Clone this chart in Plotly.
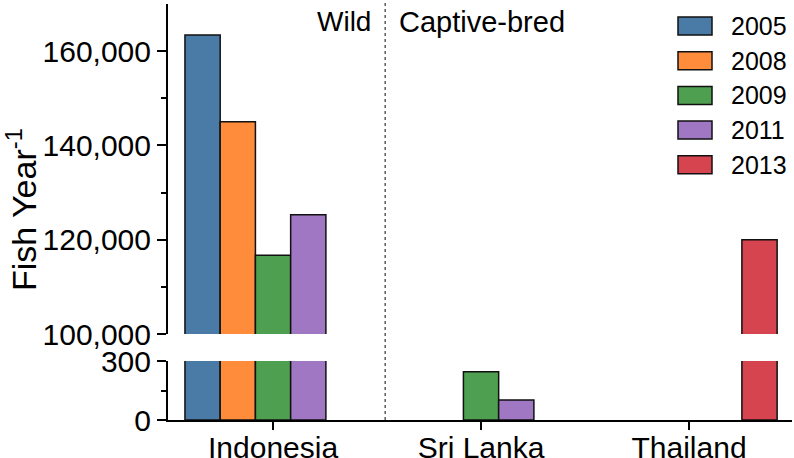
import plotly.graph_objects as go

countries = ["Indonesia", "Sri Lanka", "Thailand"]
years = ["2005", "2008", "2009", "2011", "2013"]
values = {
    "2005": [163400, None, None],
    "2008": [145000, None, None],
    "2009": [116700, 245, None],
    "2011": [125300, 102, None],
    "2013": [None, None, 120000],
}
colors = {
    "2005": "#4A7BA6",
    "2008": "#FF8C3A",
    "2009": "#4EA050",
    "2011": "#A077C2",
    "2013": "#D6444F",
}

FONT = "Liberation Sans, Arial, sans-serif"
W, H = 794, 458
mt, mb, ml, mr = 4, 38, 168, 2
ph = H - mt - mb
pw = W - ml - mr

def yfrac(px):
    return (H - mb - px) / ph

def xfrac(px):
    return (px - ml) / pw

fig = go.Figure()
for yr in years:
    for ax in ("y", "y2"):
        fig.add_trace(go.Bar(
            x=countries, y=values[yr], name=yr, yaxis=ax, xaxis="x",
            marker=dict(color=colors[yr], line=dict(color="#111111", width=1.5)),
            showlegend=False,
        ))

tick_common = dict(showline=True, linecolor="black", linewidth=2, ticks="outside",
                   tickwidth=2, tickcolor="black", showgrid=False, zeroline=False,
                   automargin=False, tickfont=dict(size=30))

fig.update_layout(
    width=W, height=H,
    margin=dict(l=ml, r=mr, t=mt, b=mb, autoexpand=False),
    paper_bgcolor="white", plot_bgcolor="white",
    barmode="group", bargap=0.153, bargroupgap=0,
    font=dict(family=FONT, size=30, color="black"),
    xaxis=dict(range=[-0.505, 2.495], anchor="y2", ticklen=8,
               ticklabelstandoff=-8, **tick_common),
    yaxis=dict(
        domain=[yfrac(334), 1.0], range=[100000, 170000], ticklen=9,
        tickvals=[100000, 120000, 140000, 160000],
        ticktext=["100,000", "120,000", "140,000", "160,000"],
        minor=dict(tickvals=[110000, 130000, 150000], ticks="outside", ticklen=5,
                   tickwidth=2, tickcolor="black"),
        anchor="x", **tick_common,
    ),
    yaxis2=dict(
        domain=[0, yfrac(361)], range=[0, 300], ticklen=9,
        tickvals=[0, 300], ticktext=["0", "300"],
        minor=dict(tickvals=[150], ticks="outside", ticklen=5,
                   tickwidth=2, tickcolor="black"),
        anchor="x", **tick_common,
    ),
)

# divider between wild and captive-bred
fig.add_shape(type="line", xref="x", yref="paper", x0=0.539, x1=0.539,
              y0=0, y1=yfrac(0), line=dict(color="#333333", width=1.2, dash="dot"))
fig.add_annotation(text="Wild", xref="paper", yref="paper", x=xfrac(373), y=yfrac(22),
                   xanchor="right", yanchor="middle", showarrow=False,
                   font=dict(size=28))
fig.add_annotation(text="Captive-bred", xref="paper", yref="paper", x=xfrac(397), y=yfrac(22),
                   xanchor="left", yanchor="middle", showarrow=False,
                   font=dict(size=29))

# y-axis title
fig.add_annotation(text="Fish Year<sup>-1</sup>", xref="paper", yref="paper",
                   x=xfrac(21), y=yfrac(210), textangle=-90, showarrow=False,
                   xanchor="center", yanchor="middle", font=dict(size=34))

# legend drawn manually
for i, yr in enumerate(years):
    cy = 26 + i * 34.7
    fig.add_shape(type="rect", xref="paper", yref="paper",
                  x0=xfrac(678), x1=xfrac(712), y0=yfrac(cy - 9), y1=yfrac(cy + 9),
                  fillcolor=colors[yr], line=dict(color="#111111", width=1.5))
    fig.add_annotation(text=yr, xref="paper", yref="paper", x=xfrac(729),
                       y=yfrac(cy), xanchor="left", yanchor="middle",
                       showarrow=False, font=dict(size=25))

fig.write_html("out.html", config={"displayModeBar": False},
               post_script="document.body.style.margin='0';")
